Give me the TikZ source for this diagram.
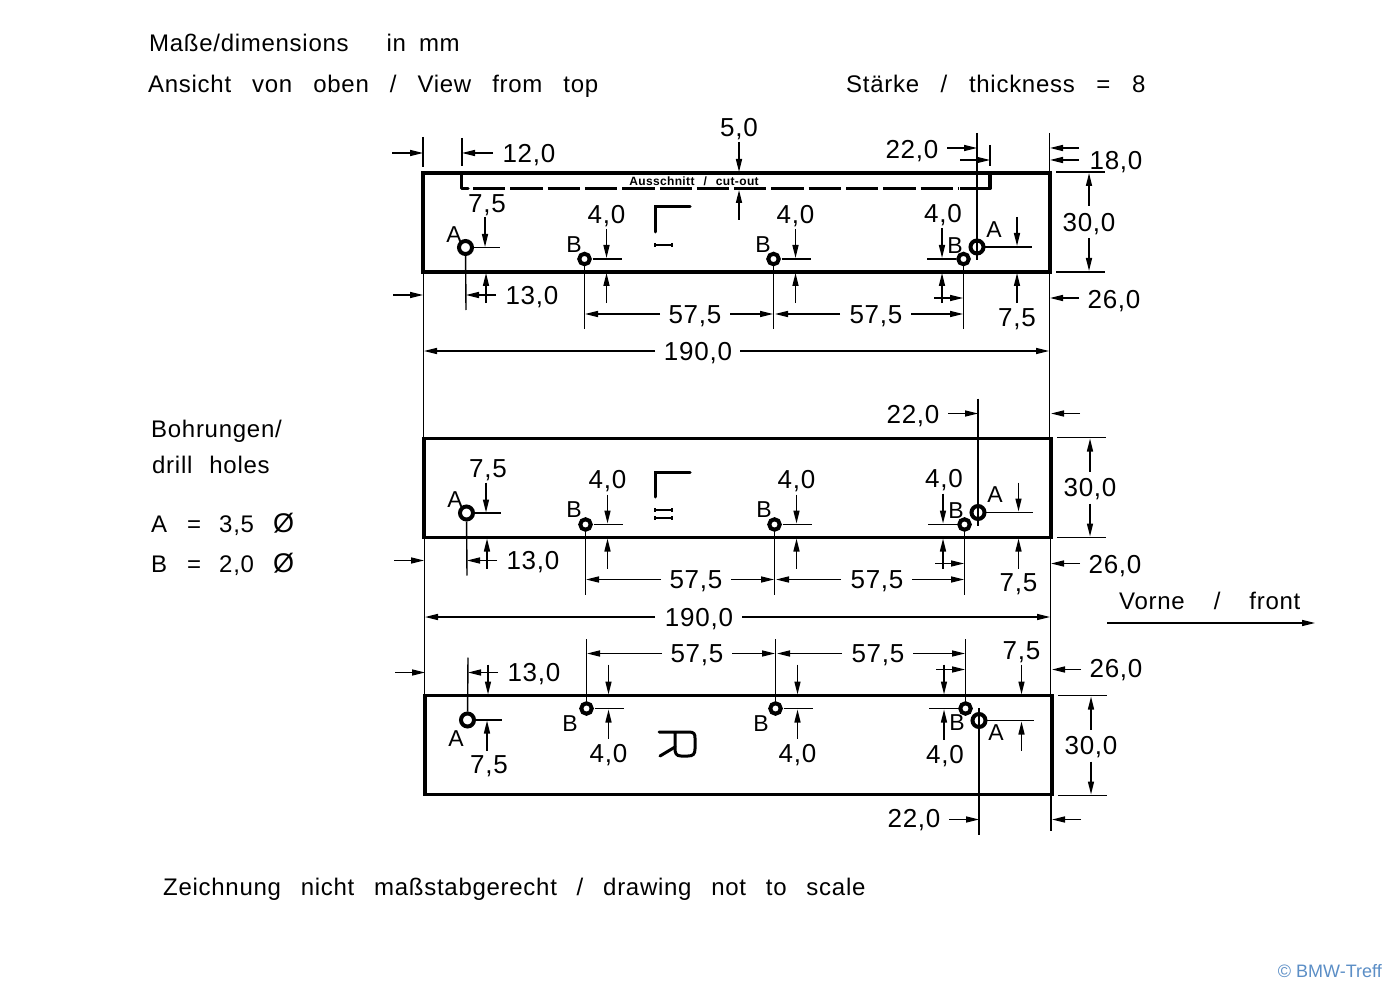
\documentclass[tikz,border=0pt]{standalone}
\usepackage{fontspec}
\setmainfont{Liberation Sans}
\usetikzlibrary{arrows.meta}
\newfontfamily\cadfont[LetterSpace=3]{Liberation Sans}
\newfontfamily\numfont[LetterSpace=3]{Liberation Sans}
\definecolor{crblue}{HTML}{5B8EC6}
\newcommand{\wordgap}[1]{\spaceskip #1pt\relax}
\tikzset{
  plate/.style={draw=black,line width=3.4pt},
  dimline/.style={draw=black,line width=1.4pt},
  dimarrow/.style={dimline,-{Triangle[length=13pt,width=6pt]}},
  holeA/.style={circle,draw=black,line width=4pt,minimum size=13pt,inner sep=0pt},
  holeB/.style={circle,draw=black,line width=4pt,minimum size=10.5pt,inner sep=0pt},
  num/.style={font=\numfont\fontsize{26}{26}\selectfont,inner sep=0pt,text height=18.5pt,text depth=0pt},
  ltr/.style={font=\fontsize{23}{23}\selectfont,inner sep=0pt,text height=16.5pt,text depth=0pt},
  head/.style={anchor=base west,inner sep=0pt,font={\cadfont\fontsize{24}{24}\selectfont\wordgap{#1}}},
  head/.default=19,
  glyph/.style={draw=black,line width=3pt,line cap=round},
  tickbar/.style={draw=black,line width=1.4pt},
}
% everything a plate has in common, local y as in the top plate
% #1 name prefix, #2 #3 x of the middle B letters, #4 y of left A, #5 y of right A, #6 x of right 7,5
\newcommand{\plateparts}[6]{%
  \draw[plate] (423,173) rectangle (1050,272);
  % left hole A
  \node[holeA] (#1hA) at (465.5,247.5) {};
  \coordinate (#1hAd) at (466,310);
  \draw[dimline] (#1hA) -- (#1hAd);
  \draw[dimline] (473,247.5) -- (500,247.5);
  \node[ltr] (#1la) at (454,#4) {A};
  \node[num] (#1n1) at (487,203) {7,5};
  \draw[dimarrow] (485,217) -- (485,247);
  \draw[dimarrow] (486,303) -- (486,273);
  \draw[dimarrow] (496,295) -- (466,295);
  \node[num] (#1n2) at (532,295) {13,0};
  % B holes
  \foreach \hx/\nm/\bx in {584.5/b/#2,773.5/c/#3}{
    \node[holeB] (#1h\nm) at (\hx,259) {};
    \coordinate (#1h\nm d) at (\hx,329);
    \draw[dimline] (#1h\nm) -- (#1h\nm d);
    \draw[dimline] (\hx+8,259) -- (\hx+37,259);
    \node[ltr] (#1l\nm) at (\bx,244) {B};
    \node[num] (#1n\nm) at (\hx+22,214) {4,0};
    \draw[dimarrow] (\hx+22,229) -- (\hx+22,258);
    \draw[dimarrow] (\hx+22,303) -- (\hx+22,273);
  }
  % right B hole
  \node[holeB] (#1hd) at (963.5,259) {};
  \coordinate (#1hdd) at (963.5,329);
  \draw[dimline] (#1hd) -- (#1hdd);
  \draw[dimline] (927,259) -- (956,259);
  \node[ltr] (#1ld) at (955,245) {B};
  \node[num] (#1nd) at (943,213) {4,0};
  \draw[dimarrow] (942,228) -- (942,258);
  \draw[dimarrow] (942,303) -- (942,273);
  \draw[dimarrow] (934,298) -- (963,298);
  % right hole A
  \node[holeA] (#1hr) at (977,247) {};
  \coordinate (#1hrt) at (977,133);
  \coordinate (#1hrb) at (977,260);
  \draw[dimline] (#1hrt) -- (#1hrb);
  \draw[dimline] (984,247) -- (1032,247);
  \node[ltr] (#1lr) at (994,#5) {A};
  \node[num] (#1n3) at (912,149) {22,0};
  \draw[dimarrow] (947,148) -- (977,148);
  \draw[dimarrow] (1079,148) -- (1050,148);
  \draw[dimarrow] (#6,217) -- (#6,246);
  \draw[dimarrow] (#6,303) -- (#6,273);
  \node[num] (#1n4) at (#6,317) {7,5};
  % 30,0
  \draw[dimline] (1056,172) -- (1105,172);
  \draw[dimline] (1056,272) -- (1105,272);
  \draw[dimarrow] (1089,206) -- (1089,173);
  \draw[dimarrow] (1089,238) -- (1089,271);
  \node[num] (#1n5) at (1089,222) {30,0};
  % 26,0
  \draw[dimarrow] (1079,298) -- (1050,298);
  \node[num] (#1n6) at (1114,299) {26,0};
  \draw[dimarrow] (393,295) -- (423,295);
  % 57,5 twice
  \draw[dimarrow] (660,314) -- (585,314);
  \node[num] (#1n7) at (695,314) {57,5};
  \draw[dimarrow] (730,314) -- (773,314);
  \draw[dimarrow] (840,314) -- (775,314);
  \node[num] (#1n8) at (876,314) {57,5};
  \draw[dimarrow] (911,314) -- (963,314);
}
\begin{document}
\begin{tikzpicture}[x=1pt,y=-1pt]
\useasboundingbox (0,0) rectangle (1389,984);
\fill[white] (0,0) rectangle (1389,984);

% heading texts
\node[head] (t1) at (149,52) {Maße/dimensions\hspace{38pt}in\hspace{13pt}mm};
\node[head=21] (t2) at (148,93) {Ansicht von oben / View from top};
\node[head=21.6] (t3) at (846,93) {Stärke / thickness = 8};
\node[head] (t4) at (151,437) {Bohrungen/};
\node[head=17] (t5) at (152,473) {drill holes};
\node[head] (t6) at (151,532) {A\hspace{20pt}=\hspace{18pt}3,5\hspace{19pt}{\fontsize{27}{27}\selectfont Ø}};
\node[head] (t7) at (151,572) {B\hspace{20pt}=\hspace{18pt}2,0\hspace{19pt}{\fontsize{27}{27}\selectfont Ø}};
\node[head=29] (t8) at (1119,609) {Vorne / front};
\node[head=19.8] (t9) at (163,895) {Zeichnung nicht maßstabgerecht / drawing not to scale};
\coordinate (fa) at (1107,623);
\coordinate (fb) at (1315,623);
\draw[dimarrow] (fa) -- (fb);
\node[anchor=base east,inner sep=0pt,text=crblue,font=\fontsize{18}{18}\selectfont] (cr) at (1382,977) {© BMW-Treff};

% top plate
\plateparts{a}{574}{763}{234}{229}{1017}
\draw[dimline] (423,137) -- (423,167);
\draw[dimline] (462,138) -- (462,166);
\draw[dimarrow] (392,153) -- (423,153);
\draw[dimarrow] (493,153) -- (462,153);
\node[num] (a12) at (529,153) {12,0};
\node[num] (a50) at (739,127) {5,0};
\draw[dimarrow] (739,142) -- (739,172);
\draw[dimarrow] (739,220) -- (739,190);
\draw[line width=3.2pt,dash pattern=on 32.3pt off 5pt] (473,188.5) -- (958,188.5);
\draw[line width=3.2pt,line cap=round,line join=round] (461.5,174) -- (461.5,188.5) -- (468,188.5);
\draw[line width=3.2pt,line join=round] (960,188.5) -- (990,188.5) -- (990,174);
\node[font={\cadfont\bfseries\fontsize{12}{12}\selectfont\wordgap{9}},inner sep=0pt] (cut) at (694,181) {Ausschnitt / cut-out};
\draw[dimline] (990,145) -- (990,166);
\draw[dimarrow] (960,160) -- (990,160);
\draw[dimarrow] (1079,160) -- (1050,160);
\node[num] (a18) at (1116,160) {18,0};
\draw[glyph] (655,232) -- (655,207) -- (690,207);
\draw[tickbar] (655,243) -- (655,247) (655,245) -- (672,245) (672,243) -- (672,247);
% 190,0 top
\draw[dimarrow] (655,351) -- (424,351);
\node[num] (a190) at (698,351) {190,0};
\draw[dimarrow] (740,351) -- (1049,351);

% middle plate
\begin{scope}[shift={(1,265.5)}]
\plateparts{b}{573}{763}{234}{229}{1017.5}
\end{scope}
\draw[glyph] (655,497) -- (655,472) -- (690,472);
\draw[tickbar] (655,508) -- (655,512) (655,510) -- (672,510) (672,508) -- (672,512);
\draw[tickbar] (655,516) -- (655,520) (655,518) -- (672,518) (672,516) -- (672,520);
\draw[dimarrow] (655,617) -- (425,617);
\node[num] (b190) at (699,617) {190,0};
\draw[dimarrow] (742,617) -- (1050,617);

% bottom plate, mirrored
\begin{scope}[shift={(2,967.5)},yscale=-1]
\plateparts{c}{568}{759}{229.5}{235.5}{1019.5}
\end{scope}
\draw[glyph] (659,732) -- (689,732) .. controls (694,732) and (695,734) .. (695,738) -- (695,749) .. controls (695,754) and (693,756) .. (688,756) -- (681,756) .. controls (676,756) and (675,753) .. (675,748) -- (675,732);
\draw[glyph] (660,756) -- (675,747);

% long extension lines
\draw[dimline] (423.5,272) -- (423.5,438);
\draw[dimline] (424.5,538) -- (424.5,695);
\draw[dimline] (1049.5,133) -- (1049.5,173);
\draw[dimline] (1049.5,272) -- (1049.5,437);
\draw[dimline] (1050.5,538) -- (1050.5,695);
\draw[dimline] (1051,795) -- (1051,831);
\end{tikzpicture}
\end{document}
